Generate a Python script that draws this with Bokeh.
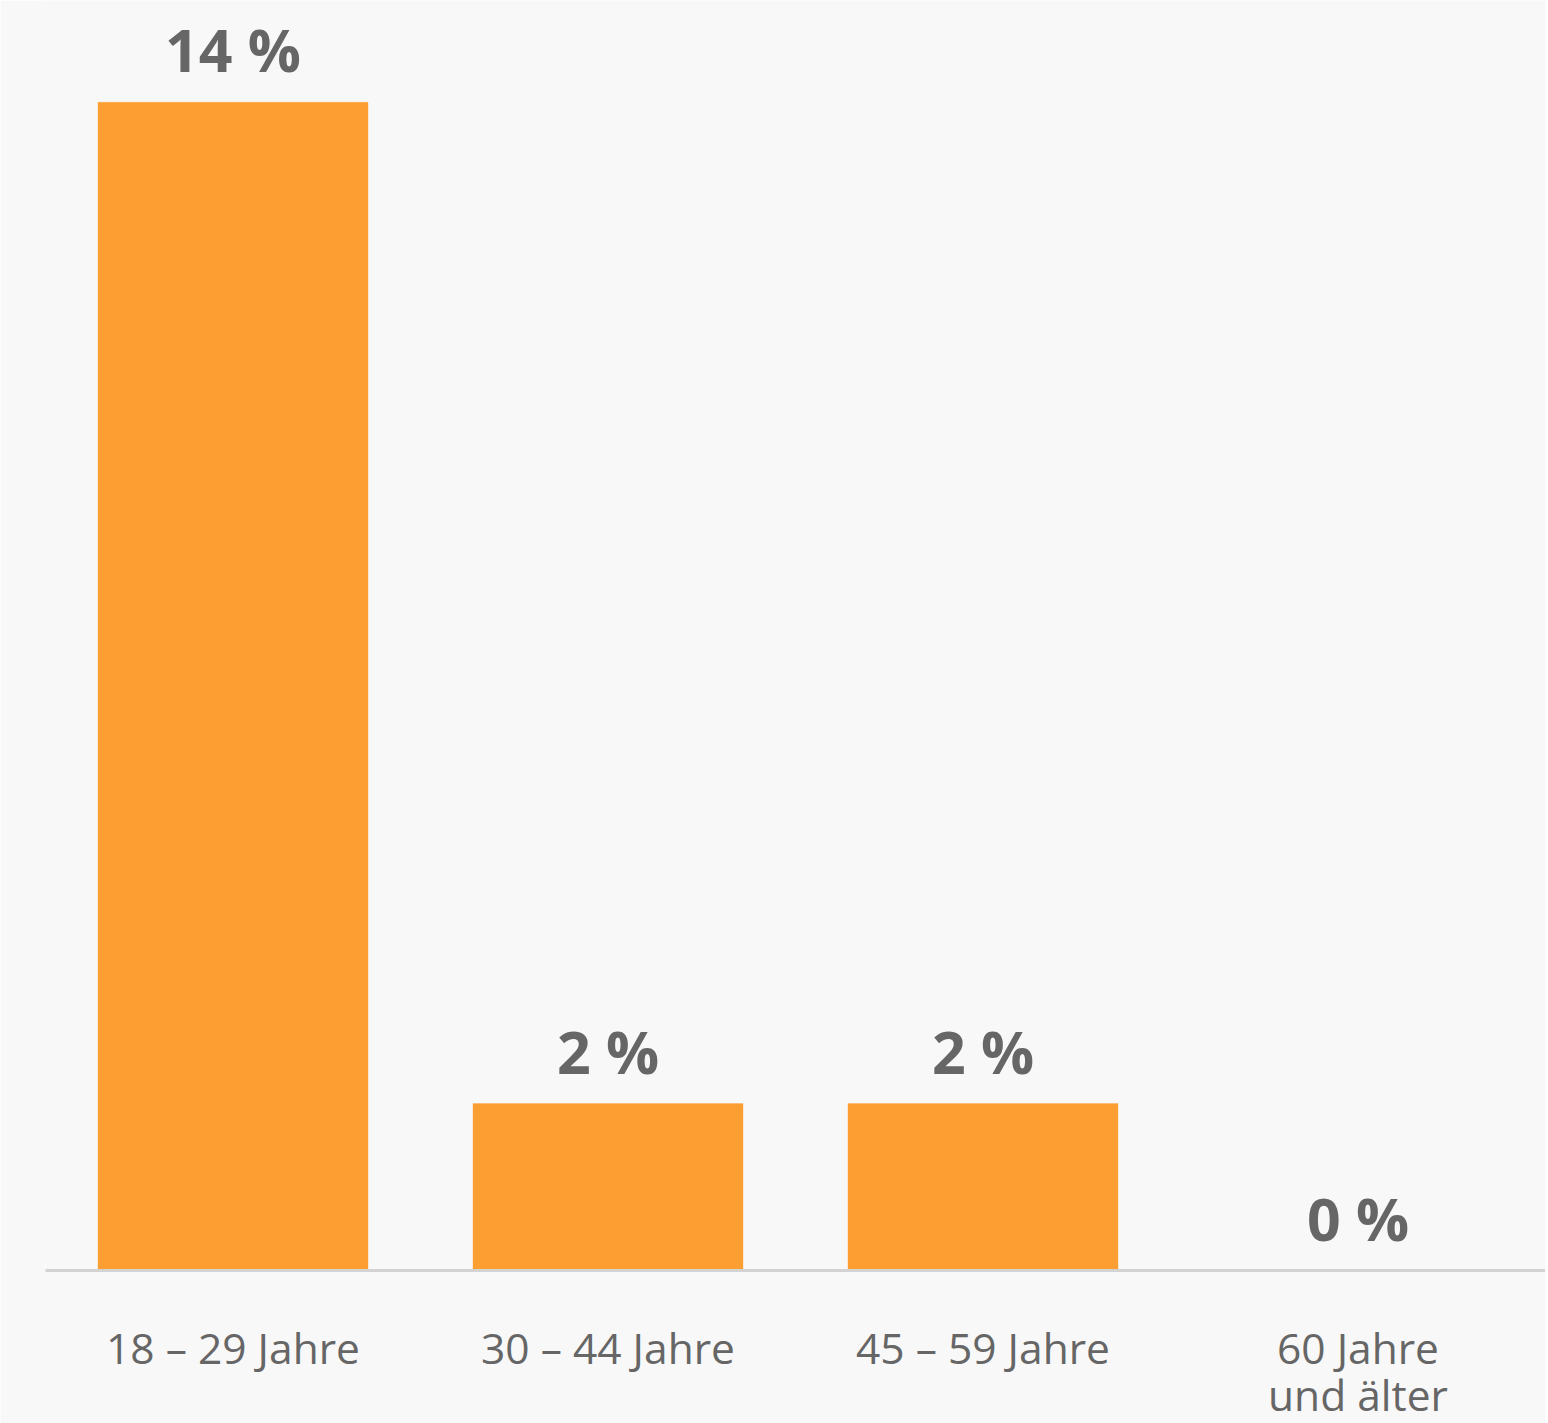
from bokeh.plotting import figure
from bokeh.models import ColumnDataSource, Range1d
from bokeh.core.properties import value
from bokeh.embed import file_html
from bokeh.resources import INLINE

categories = ["18 – 29 Jahre", "30 – 44 Jahre", "45 – 59 Jahre", "60 Jahre\nund älter"]
shares = [14, 2, 2, 0]
value_labels = ["14 %", "2 %", "2 %", "0 %"]

BG = "#f8f8f8"
BAR = "#fc9e32"
TXT = "#666666"

source = ColumnDataSource(dict(cat=categories, share=shares, label=value_labels))

p = figure(
    x_range=categories,
    y_range=Range1d(0, 15.22),
    frame_width=1500, frame_height=1270,
    output_backend="svg", toolbar_location=None,
    min_border_left=45, min_border_right=0, min_border_top=0, min_border_bottom=0,
    background_fill_color=BG, border_fill_color=BG, outline_line_color=None,
)

p.vbar(x="cat", top="share", bottom=0, width=0.72, source=source,
       fill_color=BAR, line_color=BAR, line_width=1, line_alpha=0.35)

p.text(x="cat", y="share", text="label", source=source,
       text_font=value("Open Sans"), text_font_style="bold", text_font_size="59px",
       text_color=TXT, text_align="center", text_baseline="alphabetic", y_offset=-53)

p.yaxis.visible = False
p.xgrid.visible = False
p.ygrid.visible = False

ax = p.xaxis[0]
ax.axis_line_color = "#d3d3d3"
ax.axis_line_width = 3
ax.major_tick_line_color = None
ax.minor_tick_line_color = None
ax.major_label_text_font = "Open Sans"
ax.major_label_text_font_size = "42.5px"
ax.major_label_text_color = TXT
ax.major_label_standoff = 42
ax.major_label_text_line_height = 0.84

open("out.html", "w").write(file_html(p, INLINE))
